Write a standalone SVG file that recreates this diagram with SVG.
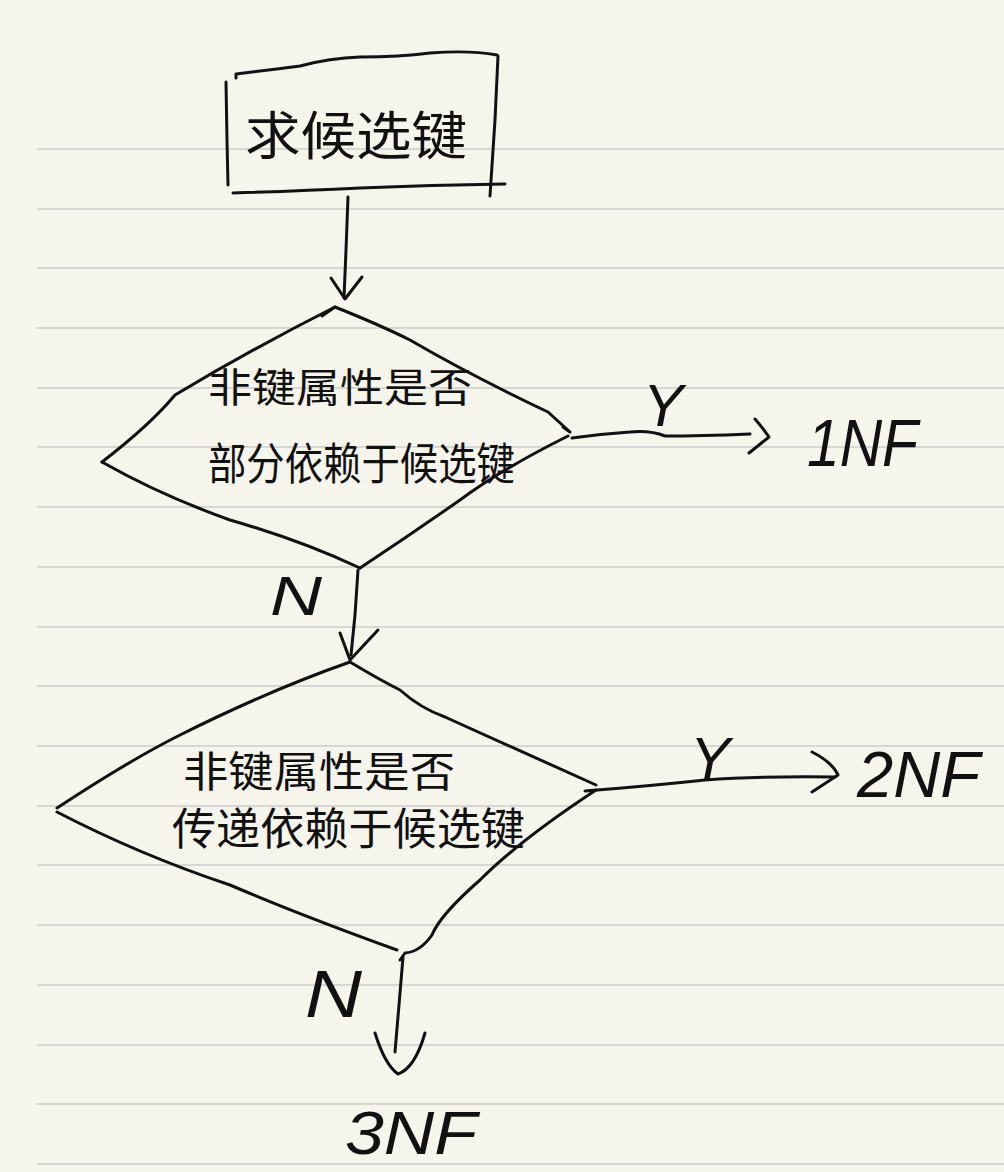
<svg xmlns="http://www.w3.org/2000/svg" width="1004" height="1172" viewBox="0 0 1004 1172">
  <style>
    .ink { fill: none; stroke: #111; stroke-width: 3; stroke-linecap: round; stroke-linejoin: round; }
    .rule { stroke: #d6d6d3; stroke-width: 2; }
    .cjk { font-family: "Noto Sans CJK SC", "Liberation Sans", sans-serif; fill: #111; }
    .lat { font-family: "Liberation Sans", "DejaVu Sans", sans-serif; fill: #111; font-style: italic; }
  </style>

  <!-- notebook paper -->
  <rect width="1004" height="1172" fill="#f6f5ec"/>
  <g id="ruled-lines">
    <line class="rule" x1="37" y1="149" x2="1004" y2="149"/>
    <line class="rule" x1="37" y1="209" x2="1004" y2="209"/>
    <line class="rule" x1="37" y1="268" x2="1004" y2="268"/>
    <line class="rule" x1="37" y1="328" x2="1004" y2="328"/>
    <line class="rule" x1="37" y1="388" x2="1004" y2="388"/>
    <line class="rule" x1="37" y1="447" x2="1004" y2="447"/>
    <line class="rule" x1="37" y1="507" x2="1004" y2="507"/>
    <line class="rule" x1="37" y1="567" x2="1004" y2="567"/>
    <line class="rule" x1="37" y1="627" x2="1004" y2="627"/>
    <line class="rule" x1="37" y1="686" x2="1004" y2="686"/>
    <line class="rule" x1="37" y1="746" x2="1004" y2="746"/>
    <line class="rule" x1="37" y1="806" x2="1004" y2="806"/>
    <line class="rule" x1="37" y1="865" x2="1004" y2="865"/>
    <line class="rule" x1="37" y1="925" x2="1004" y2="925"/>
    <line class="rule" x1="37" y1="985" x2="1004" y2="985"/>
    <line class="rule" x1="37" y1="1045" x2="1004" y2="1045"/>
    <line class="rule" x1="37" y1="1104" x2="1004" y2="1104"/>
    <line class="rule" x1="37" y1="1164" x2="1004" y2="1164"/>
  </g>

  <!-- start box -->
  <g id="node-start">
    <path class="ink" d="M236,78 L236,74 Q270,70 300,66 Q330,58 360,57 Q400,57 430,53 Q470,50 497,55"/>
    <path class="ink" d="M498,56 L495,120 L490,196"/>
    <path class="ink" d="M233,193 Q300,191 360,188 Q430,185 505,184"/>
    <path class="ink" d="M226,82 L227,140 L228,185"/>
    <text class="cjk" x="245" y="155" font-size="52" textLength="222" lengthAdjust="spacingAndGlyphs">求候选键</text>
  </g>

  <!-- first decision -->
  <g id="node-decision1">
    <path class="ink" d="M322,316 L335,307 Q380,325 410,340 Q470,375 548,412 L570,432 L563,427"/>
    <path class="ink" d="M568,436 Q500,470 460,500 Q410,535 360,568"/>
    <path class="ink" d="M360,568 Q300,540 230,520 Q160,495 102,462"/>
    <path class="ink" d="M102,462 Q150,425 175,395 Q250,350 335,307"/>
    <text class="cjk" x="208" y="402" font-size="40" textLength="264" lengthAdjust="spacingAndGlyphs">非键属性是否</text>
    <text class="cjk" x="208" y="480" font-size="44" textLength="307" lengthAdjust="spacingAndGlyphs">部分依赖于候选键</text>
  </g>

  <!-- second decision -->
  <g id="node-decision2">
    <path class="ink" d="M350,662 Q380,680 400,690 Q420,708 445,717 Q530,755 596,785"/>
    <path class="ink" d="M596,790 Q520,840 480,880 Q440,915 432,935 Q420,952 405,953 L400,960"/>
    <path class="ink" d="M397,950 Q300,915 230,885 Q140,855 57,812"/>
    <path class="ink" d="M57,808 Q130,760 180,735 Q270,690 350,662"/>
    <text class="cjk" x="183" y="787" font-size="42" textLength="272" lengthAdjust="spacingAndGlyphs">非键属性是否</text>
    <text class="cjk" x="172" y="845" font-size="44" textLength="353" lengthAdjust="spacingAndGlyphs">传递依赖于候选键</text>
  </g>

  <!-- outcomes -->
  <g id="node-1nf">
    <text class="lat" x="807" y="466" font-size="66" textLength="111" lengthAdjust="spacingAndGlyphs">1NF</text>
  </g>
  <g id="node-2nf">
    <text class="lat" x="857" y="797" font-size="64" textLength="123" lengthAdjust="spacingAndGlyphs">2NF</text>
  </g>
  <g id="node-3nf">
    <text class="lat" x="345" y="1154" font-size="62" textLength="132" lengthAdjust="spacingAndGlyphs">3NF</text>
  </g>

  <!-- connectors and branch labels -->
  <g id="connectors">
    <!-- start to first decision -->
    <path class="ink" d="M348,197 L346,250 L344,298"/>
    <path class="ink" d="M331,278 L345,299 L362,277"/>

    <!-- first decision, yes -->
    <path class="ink" d="M572,438 Q600,434 630,432 Q650,430 665,436 Q700,436 750,434"/>
    <path class="ink" d="M755,419 Q762,427 769,437 L749,453"/>
    <text class="lat" x="663" y="426" font-size="60" text-anchor="middle">Y</text>

    <!-- first decision, no -->
    <path class="ink" d="M358,570 L355,615 L351,655"/>
    <path class="ink" d="M340,633 L350,660 L378,630"/>
    <text class="lat" x="270" y="615" font-size="55" textLength="52" lengthAdjust="spacingAndGlyphs">N</text>

    <!-- second decision, yes -->
    <path class="ink" d="M585,791 Q650,786 705,780 Q760,776 835,777"/>
    <path class="ink" d="M812,752 Q832,762 838,775 L812,792"/>
    <text class="lat" x="710" y="779" font-size="60" text-anchor="middle">Y</text>

    <!-- second decision, no -->
    <path class="ink" d="M403,957 L399,1005 L395,1052"/>
    <path class="ink" d="M375,1033 Q385,1065 398,1074 Q415,1068 425,1033"/>
    <text class="lat" x="305" y="1017" font-size="66" textLength="57" lengthAdjust="spacingAndGlyphs">N</text>
  </g>
</svg>
